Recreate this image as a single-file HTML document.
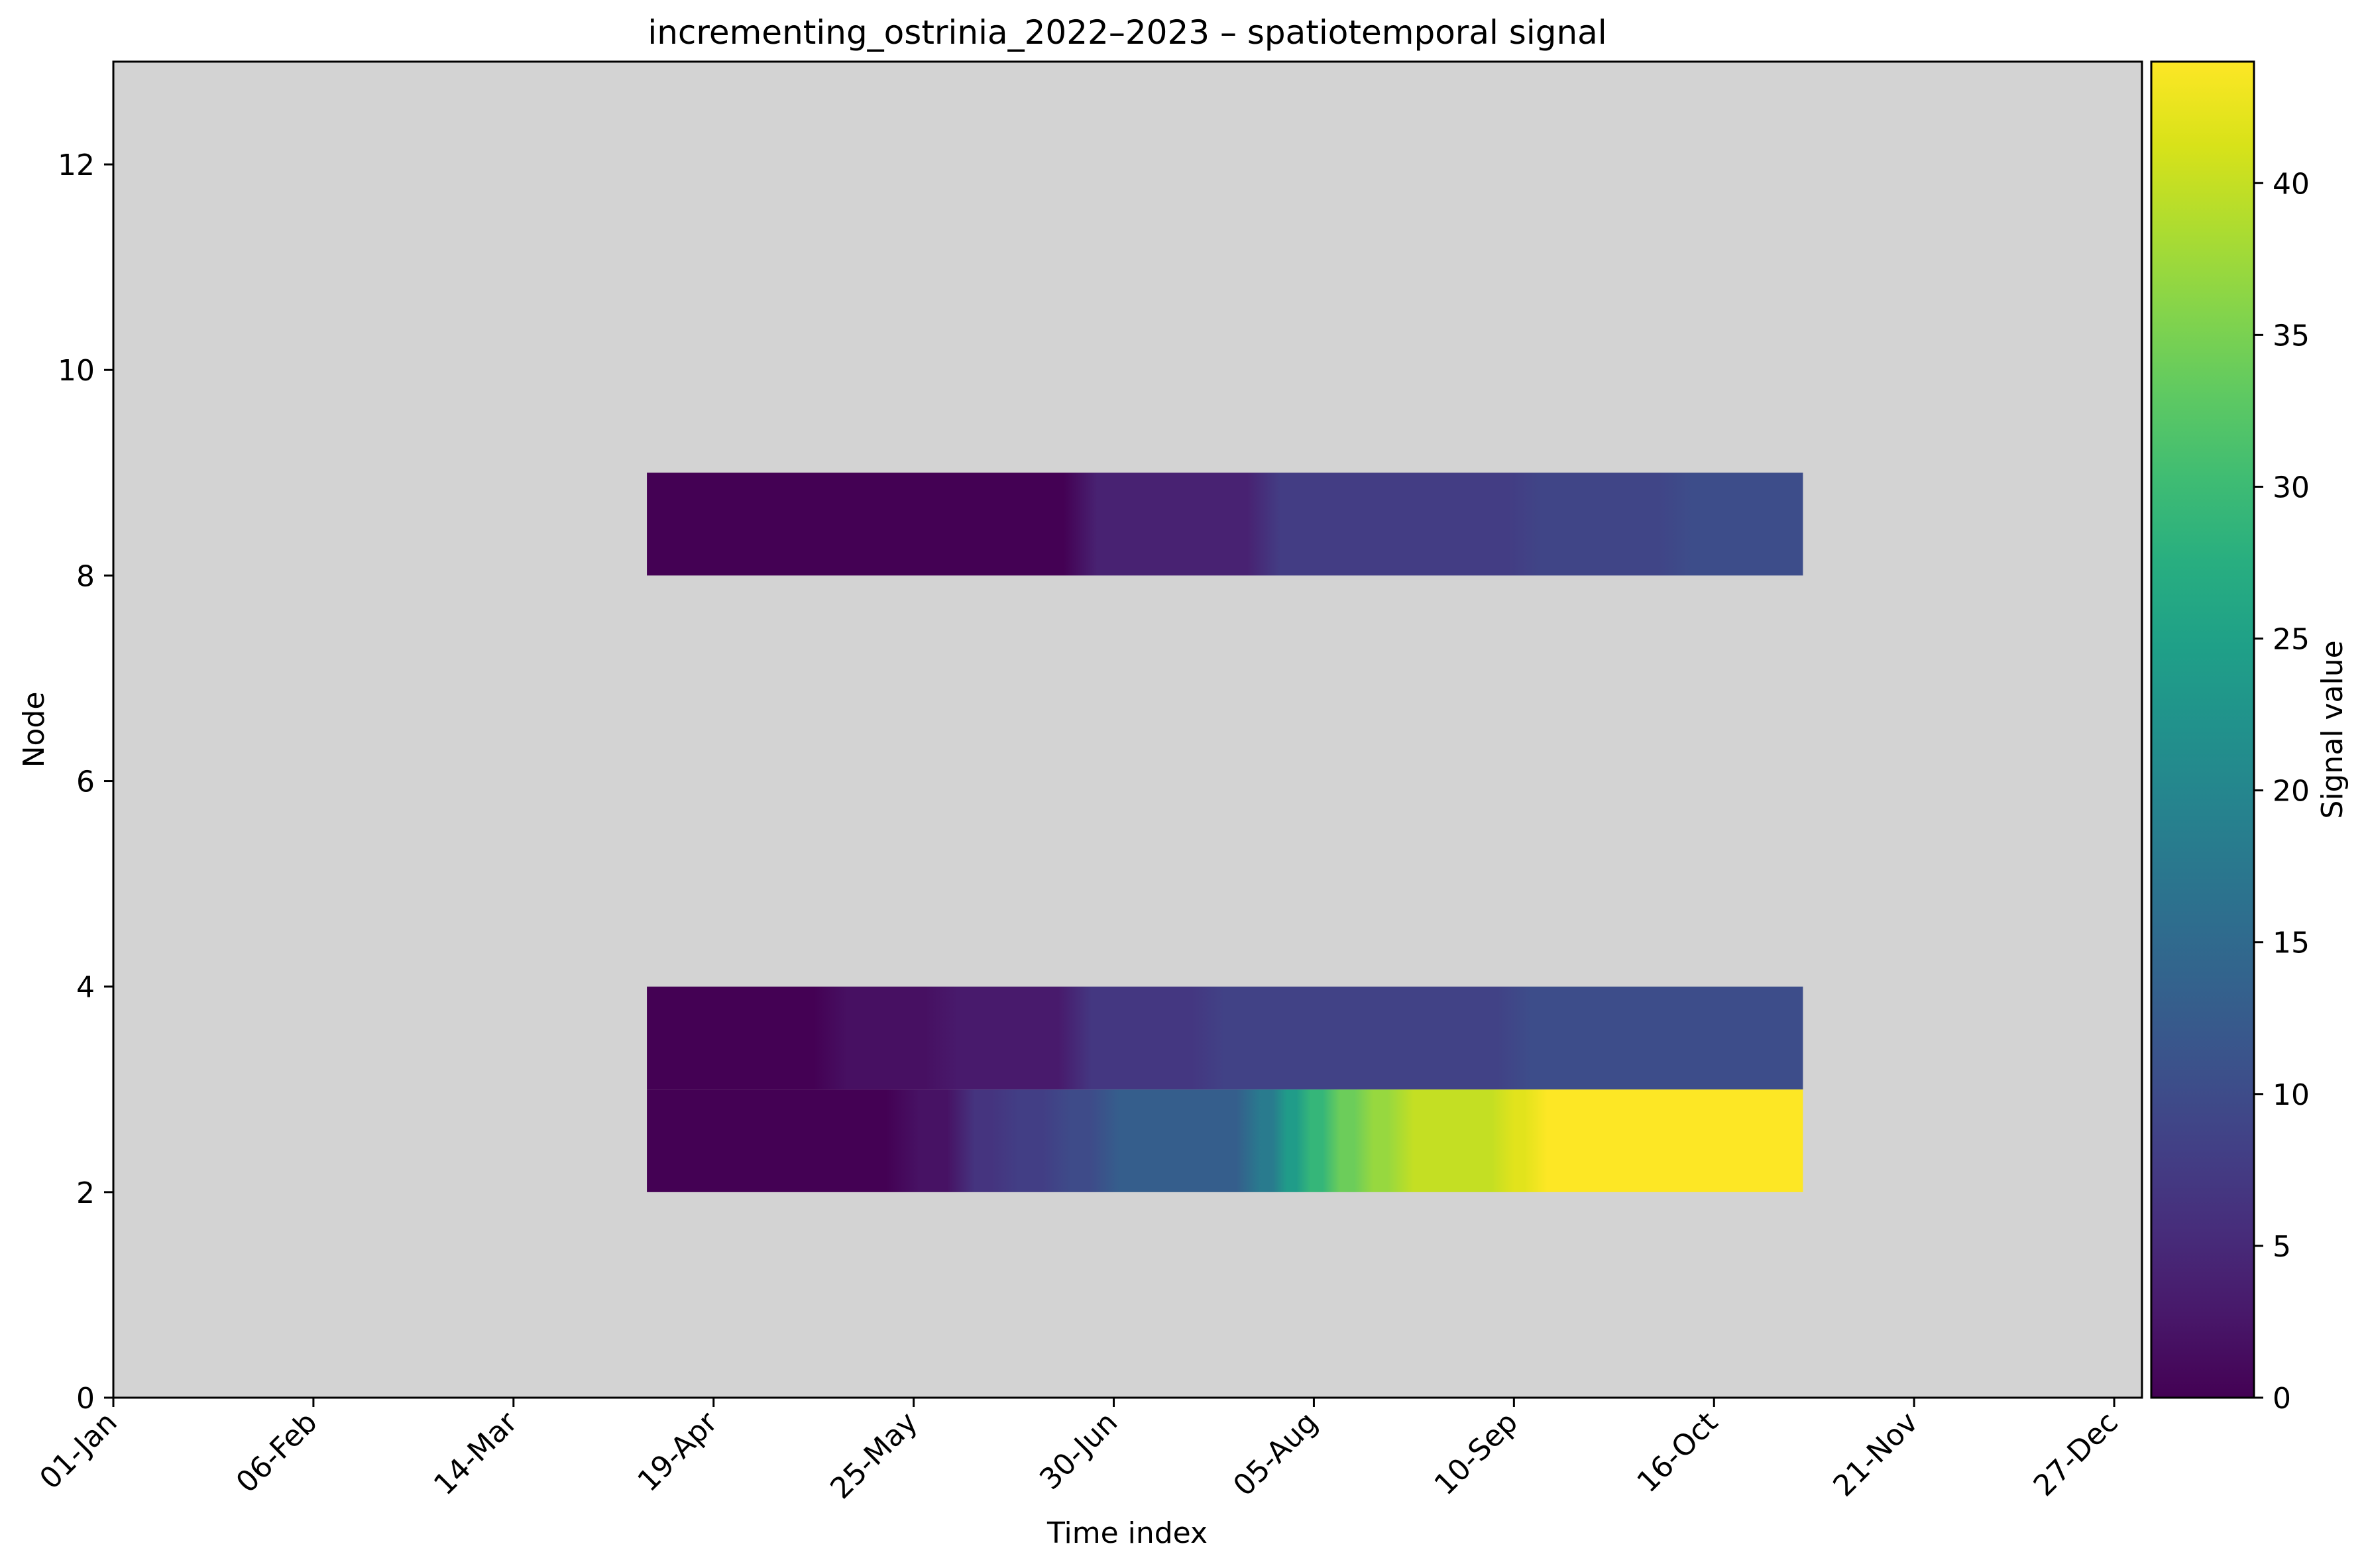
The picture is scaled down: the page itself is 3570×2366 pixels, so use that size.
<!DOCTYPE html>
<html><head><meta charset="utf-8">
<style>
html,body{margin:0;padding:0;background:#fff;}
svg{display:block;font-family:"DejaVu Sans","Liberation Sans",sans-serif;}
</style></head>
<body>
<svg id="chart" width="3570" height="2366" viewBox="0 0 3570 2366" xmlns="http://www.w3.org/2000/svg">
<defs id="defs"></defs>
<rect width="3570" height="2366" fill="#fff"/>
<text x="1701" y="66" font-size="50" text-anchor="middle">incrementing_ostrinia_2022–2023 – spatiotemporal signal</text>
<g id="plot"></g>
<text x="1701" y="2328" font-size="44" text-anchor="middle">Time index</text>
<text x="0" y="0" font-size="44" text-anchor="middle" transform="translate(66,1101) rotate(-90)">Node</text>
<text x="0" y="0" font-size="44" text-anchor="middle" transform="translate(3534,1101) rotate(-90)">Signal value</text>
</svg>
<script>
// ---- data ----
const xTickDays = [0, 36, 72, 108, 144, 180, 216, 252, 288, 324, 360];
const xTickLabels = ["01-Jan","06-Feb","14-Mar","19-Apr","25-May","30-Jun","05-Aug","10-Sep","16-Oct","21-Nov","27-Dec"];
const yTicks = [0, 2, 4, 6, 8, 10, 12];
const cbTicks = [0, 5, 10, 15, 20, 25, 30, 35, 40];
const rowNodes = [2, 3, 8];
// segments per row: start day, end day, value
const node2Starts = [96,142,153,160,170,178,205,210,214,219,225,231,251,255];
const node2Ends   = [142,153,160,170,178,205,210,214,219,225,231,251,255,304];
const node2Values = [0,2,6.5,8,10,13,18,24,29,34,37,40,42,44];
const node3Starts = [96,129,149,173,197,252];
const node3Ends   = [129,149,173,197,252,304];
const node3Values = [0,1.8,3,7,8.5,10.3];
const node8Starts = [96,174,207,254,281];
const node8Ends   = [174,207,254,281,304];
const node8Values = [0,4,7.8,9,10.2];
const vMin = 0, vMax = 44;

// ---- layout ----
const L=171, R=3232, T=93, B=2109;
const X0=0, X1=365, Y0=0, Y1=13;
const CBL=3246, CBR=3401;
const xs = d => L + (d - X0) / (X1 - X0) * (R - L);
const ys = v => B - (v - Y0) / (Y1 - Y0) * (B - T);
const cs = v => B - (v - vMin) / (vMax - vMin) * (B - T);

const VIR = ["#440154","#48186a","#472d7b","#424086","#3b528b","#33638d","#2c728e","#26828e","#21918c","#1fa088","#28ae80","#3fbc73","#5ec962","#84d44b","#addc30","#d8e219","#fde725"];
function hex2rgb(h){return [1,3,5].map(i=>parseInt(h.substr(i,2),16));}
function viridis(v){
  let t = Math.max(0, Math.min(1, (v - vMin) / (vMax - vMin))) * (VIR.length - 1);
  const i = Math.min(VIR.length - 2, Math.floor(t)); const f = t - i;
  const a = hex2rgb(VIR[i]), b = hex2rgb(VIR[i+1]);
  return "rgb(" + a.map((c,k)=>Math.round(c + (b[k]-c)*f)).join(",") + ")";
}

const NS = "http://www.w3.org/2000/svg";
const plot = document.getElementById("plot");
const defs = document.getElementById("defs");
function el(tag, attrs, parent){const e=document.createElementNS(NS,tag);for(const k in attrs)e.setAttribute(k,attrs[k]);(parent||plot).appendChild(e);return e;}

const bg = el("rect",{x:L,y:T,width:R-L,height:B-T,fill:"#d3d3d3"});



const rowsData = [[node2Starts,node2Ends,node2Values],[node3Starts,node3Ends,node3Values],[node8Starts,node8Ends,node8Values]];
rowsData.forEach((rd, ri) => {
  const [st, en, va] = rd;
  const d0 = st[0], d1 = en[en.length-1];
  const g = el("linearGradient",{id:"g"+ri,x1:"0",x2:"1",y1:"0",y2:"0"},defs);
  for (let i=0;i<st.length;i++){
    const b = Math.min(3, (en[i]-st[i])/3.5);
    const a0 = i===0 ? st[i] : st[i]+b;
    const a1 = i===st.length-1 ? en[i] : en[i]-b;
    el("stop",{offset:((a0-d0)/(d1-d0)).toFixed(4),"stop-color":viridis(va[i])},g);
    el("stop",{offset:((a1-d0)/(d1-d0)).toFixed(4),"stop-color":viridis(va[i])},g);
  }
  const n = rowNodes[ri];
  const r = el("rect",{x:xs(d0),y:ys(n+1),width:xs(d1)-xs(d0),height:ys(n)-ys(n+1),fill:"url(#g"+ri+")"});
  
  
});

const fr = el("rect",{x:L,y:T,width:R-L,height:B-T,fill:"none",stroke:"#000","stroke-width":3});



xTickDays.forEach((d,i)=>{
  const x = xs(d);
  const t = el("line",{x1:x,x2:x,y1:B,y2:B+14,stroke:"#000","stroke-width":3});
  
  
  const lb = el("text",{x:0,y:0,"font-size":44,"text-anchor":"end",transform:"translate("+(x+8)+","+(B+40)+") rotate(-45)"});
  lb.textContent = xTickLabels[i];
  
  
});
yTicks.forEach(v=>{
  const y = ys(v);
  const t = el("line",{x1:L-14,x2:L,y1:y,y2:y,stroke:"#000","stroke-width":3});
  
  
  const lb = el("text",{x:L-28,y:y+16,"font-size":44,"text-anchor":"end"});
  lb.textContent = String(v);
  
  
});

const cg = el("linearGradient",{id:"cbg",x1:"0",x2:"0",y1:"1",y2:"0"},defs);
VIR.forEach((c,i)=>el("stop",{offset:(i/(VIR.length-1)).toFixed(4),"stop-color":c},cg));
const cb = el("rect",{x:CBL,y:T,width:CBR-CBL,height:B-T,fill:"url(#cbg)",stroke:"#000","stroke-width":3});


cbTicks.forEach(v=>{
  const y = cs(v);
  const t = el("line",{x1:CBR,x2:CBR+14,y1:y,y2:y,stroke:"#000","stroke-width":3});
  
  
  const lb = el("text",{x:CBR+28,y:y+16,"font-size":44});
  lb.textContent = String(v);
  
  
});
</script>
</body></html>
